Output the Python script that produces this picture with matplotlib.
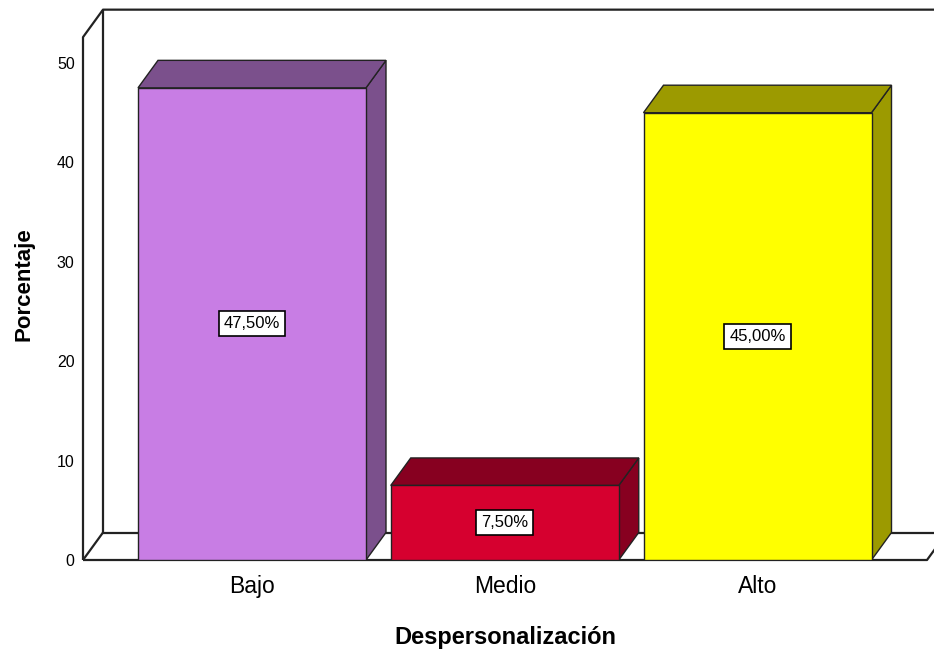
import matplotlib
matplotlib.use("Agg")
import matplotlib.pyplot as plt
from matplotlib.patches import Polygon

plt.rcParams['font.family'] = ['Liberation Sans', 'DejaVu Sans']

categories = ['Bajo', 'Medio', 'Alto']
percentages = [47.5, 7.5, 45.0]
value_labels = ['47,50%', '7,50%', '45,00%']
front_colors = ['#C87DE4', '#D6002F', '#FFFF00']
dark_colors = ['#7B508C', '#870020', '#9C9A00']
yticks = [0, 10, 20, 30, 40, 50]

# layout in pixels of the reference (934 x 656)
W, H = 934, 656
px_per_cat = 252.75
px_per_val = 9.94
x_center0 = 252.0
y_zero = 560.0

fig = plt.figure(figsize=(W / 100, H / 100), dpi=100)
ax = fig.add_axes([83 / W, (H - y_zero) / H, (W - 83) / W, y_zero / H])

x_left = (83 - x_center0) / px_per_cat
x_right = (W - x_center0) / px_per_cat
ax.set_xlim(x_left, x_right)
ax.set_ylim(0, y_zero / px_per_val)

# depth of the 3d effect (data units)
dx = 20 / px_per_cat
dy = 27.5 / px_per_val
bar_w = 228 / px_per_cat
wall_top = 52.6

line_kw = dict(color='#222222', lw=1.6, clip_on=False, solid_capstyle='butt')
floor_right = (927 - x_center0) / px_per_cat

# walls and floor
ax.plot([x_left, x_left, x_left + dx, x_right + 0.1], [0, wall_top, wall_top + dy, wall_top + dy], **line_kw)
ax.plot([x_left + dx, x_left + dx, x_right + 0.1], [wall_top + dy, dy, dy], **line_kw)
ax.plot([x_left, x_left + dx], [0, dy], **line_kw)
ax.plot([x_left, floor_right, floor_right + dx * 1.4], [0, 0, dy * 1.4], **line_kw)

for i, (v, fc, dc, lab) in enumerate(zip(percentages, front_colors, dark_colors, value_labels)):
    x0 = i - bar_w / 2
    x1 = i + bar_w / 2
    side = Polygon([(x1, 0), (x1 + dx, dy), (x1 + dx, v + dy), (x1, v)],
                   closed=True, facecolor=dc, edgecolor='#222222', lw=1.0, zorder=3)
    top = Polygon([(x0, v), (x1, v), (x1 + dx, v + dy), (x0 + dx, v + dy)],
                  closed=True, facecolor=dc, edgecolor='#222222', lw=1.0, zorder=3)
    ax.add_patch(side)
    ax.add_patch(top)
    ax.bar(i, v, width=bar_w, color=fc, edgecolor='#222222', lw=1.0, zorder=4)
    ax.text(i, v / 2, lab, ha='center', va='center', fontsize=12, zorder=5,
            bbox=dict(boxstyle='square,pad=0.3', facecolor='white', edgecolor='black', lw=1.2))

for s in ax.spines.values():
    s.set_visible(False)

ax.set_yticks(yticks)
ax.set_yticklabels([str(t) for t in yticks], fontsize=11.5)
ax.tick_params(axis='y', length=0, pad=6)
ax.set_xticks(range(len(categories)))
ax.set_xticklabels(categories, fontsize=16.5)
ax.tick_params(axis='x', length=0, pad=11)

ax.set_ylabel('Porcentaje', fontsize=16, fontweight='bold')
ax.yaxis.set_label_coords((34 - 83) / (W - 83), 0.5 + (y_zero / 2 - 284) / y_zero)
ax.set_xlabel('Despersonalización', fontsize=17, fontweight='bold')
ax.xaxis.set_label_coords((505 - 83) / (W - 83), (y_zero - 626) / y_zero)

fig.savefig('out.png', dpi=100)
